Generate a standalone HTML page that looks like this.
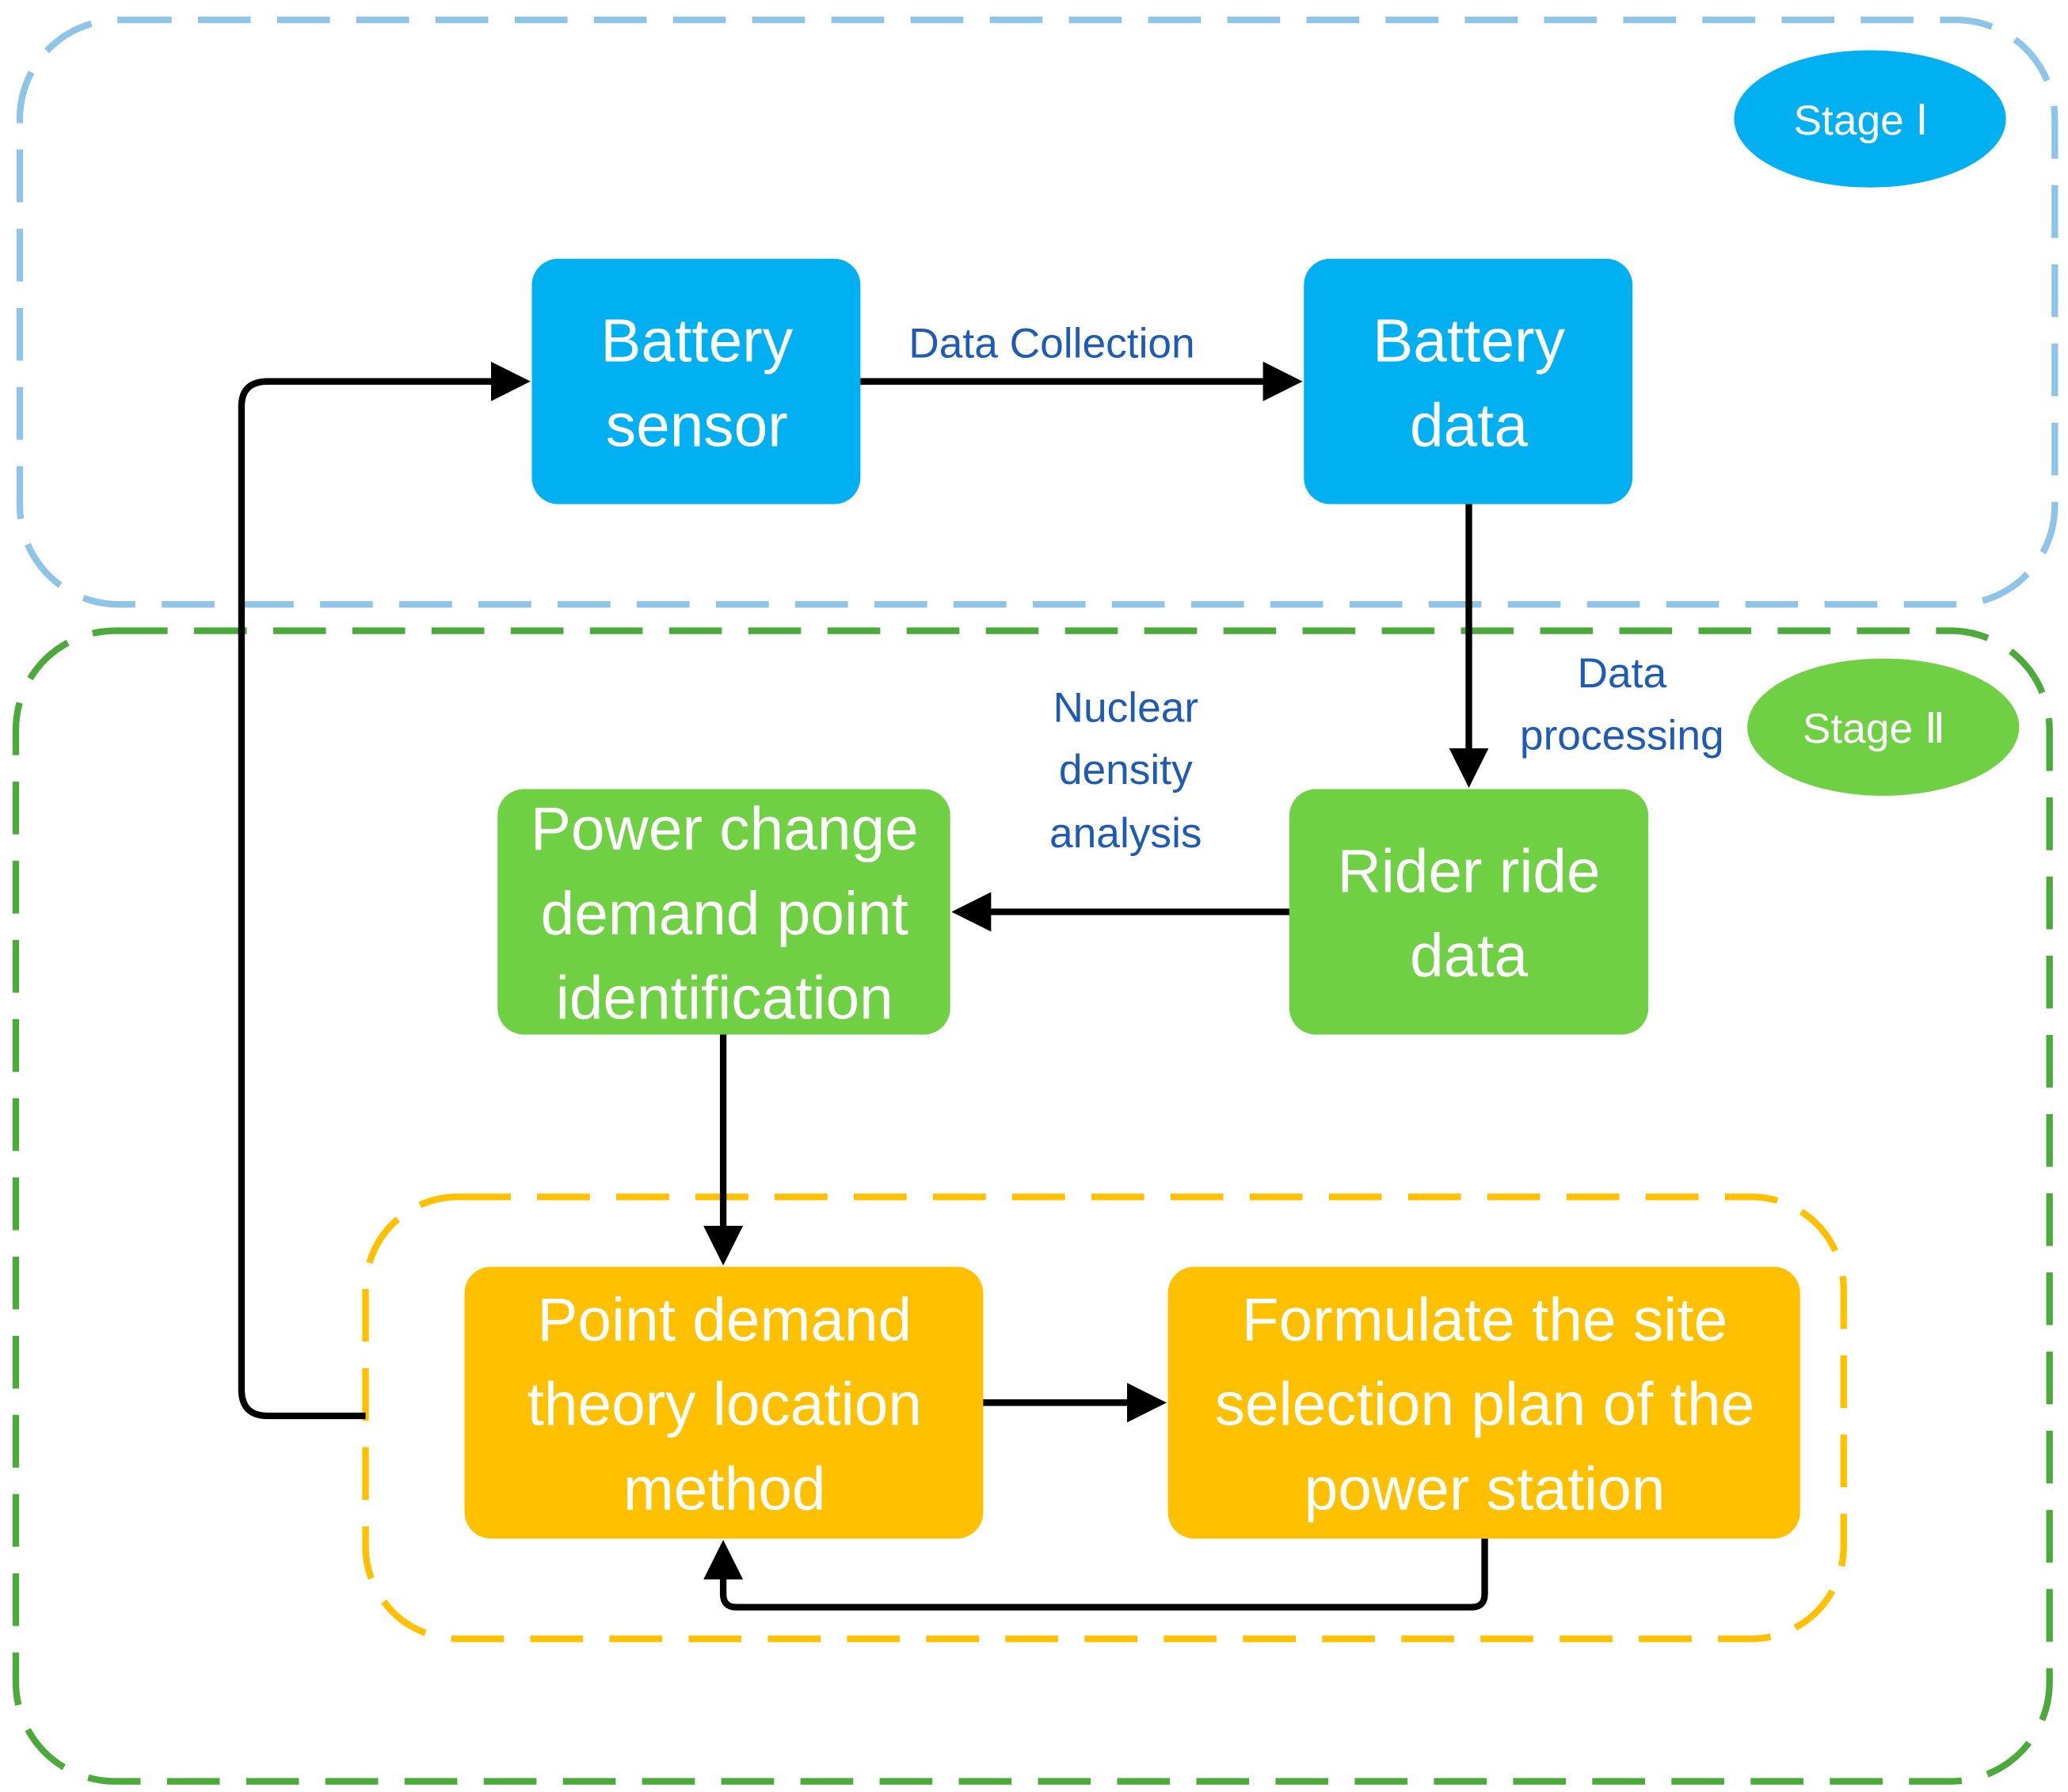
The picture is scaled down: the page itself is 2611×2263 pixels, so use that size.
<!DOCTYPE html>
<html><head><meta charset="utf-8"><style>
html,body{margin:0;padding:0;background:#fff;}
svg{display:block;}
text{font-family:"Liberation Sans","DejaVu Sans",sans-serif;}
</style></head><body>
<svg width="2611" height="2263" viewBox="0 0 1567 1358" xmlns="http://www.w3.org/2000/svg">
<defs>
<marker id="ah" markerWidth="6" markerHeight="6" refX="5" refY="3" orient="auto" markerUnits="strokeWidth">
<path d="M0,0 L6,3 L0,6 z" fill="#000"/></marker>
</defs>
<rect x="15" y="15" width="1542" height="443" rx="75" fill="none" stroke="#8dc4e8" stroke-width="5" stroke-dasharray="40,20"/>
<rect x="12" y="478" width="1541" height="872" rx="75" fill="none" stroke="#4caa3a" stroke-width="5" stroke-dasharray="40,20"/>
<rect x="277" y="907" width="1120" height="335" rx="70" fill="none" stroke="#ffc000" stroke-width="5" stroke-dasharray="40,20"/>
<ellipse cx="1417" cy="90" rx="103" ry="52" fill="#00b0f0"/>
<text x="1410" y="102" font-size="32" fill="#fff" text-anchor="middle">Stage Ⅰ</text>
<ellipse cx="1427" cy="551" rx="103" ry="52" fill="#6fd044"/>
<text x="1420" y="563" font-size="32" fill="#fff" text-anchor="middle">Stage Ⅱ</text>
<g font-size="46" fill="#fff" text-anchor="middle">
<rect x="403" y="196" width="249" height="186" rx="20" fill="#00b0f0"/>
<text x="528" y="274">Battery</text><text x="528" y="338">sensor</text>
<rect x="988" y="196" width="249" height="186" rx="20" fill="#00b0f0"/>
<text x="1113" y="274">Battery</text><text x="1113" y="338">data</text>
<rect x="977" y="598" width="272" height="186" rx="20" fill="#6fd044"/>
<text x="1113" y="676">Rider ride</text><text x="1113" y="740">data</text>
<rect x="377" y="598" width="343" height="186" rx="20" fill="#6fd044"/>
<text x="549" y="644">Power change</text><text x="549" y="708">demand point</text><text x="549" y="772">identification</text>
<rect x="352" y="960" width="393" height="206" rx="20" fill="#ffc000"/>
<text x="549" y="1016">Point demand</text><text x="549" y="1080">theory location</text><text x="549" y="1144">method</text>
<rect x="885" y="960" width="479" height="206" rx="20" fill="#ffc000"/>
<text x="1125" y="1016">Formulate the site</text><text x="1125" y="1080">selection plan of the</text><text x="1125" y="1144">power station</text>
</g>
<g font-size="32" fill="#1e5bb5" text-anchor="middle">
<text x="797" y="271">Data Collection</text>
<text x="1229" y="521">Data</text><text x="1229" y="568">processing</text>
<text x="853" y="547">Nuclear</text><text x="853" y="594">density</text><text x="853" y="642">analysis</text>
</g>
<g stroke="#000" stroke-width="5" fill="none" stroke-linejoin="round">
<line x1="652" y1="289" x2="982" y2="289" marker-end="url(#ah)"/>
<line x1="1113" y1="382" x2="1113" y2="592" marker-end="url(#ah)"/>
<line x1="977" y1="691" x2="726" y2="691" marker-end="url(#ah)"/>
<line x1="548" y1="784" x2="548" y2="954" marker-end="url(#ah)"/>
<line x1="745" y1="1063" x2="879" y2="1063" marker-end="url(#ah)"/>
<path d="M277,1073 H203 Q183,1073 183,1053 V308 Q183,289 203,289 H397" marker-end="url(#ah)"/>
<path d="M1125,1166 V1208 Q1125,1218 1115,1218 H558 Q548,1218 548,1208 V1172" marker-end="url(#ah)"/>
</g>
</svg>
</body></html>
